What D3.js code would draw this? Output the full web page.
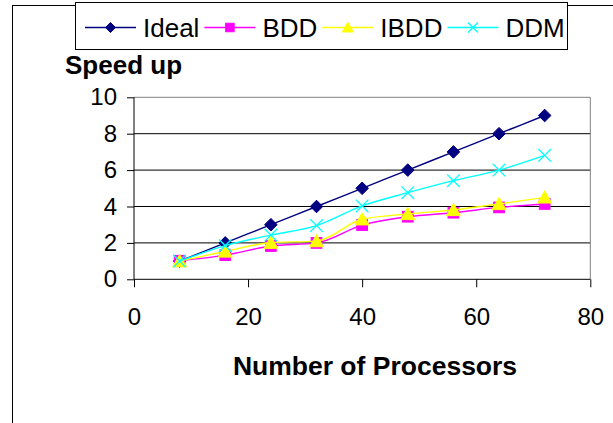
<!DOCTYPE html>
<html>
<head>
<meta charset="utf-8">
<script src="https://cdn.jsdelivr.net/npm/d3@7"></script>
<style>
  html, body { margin: 0; padding: 0; background: #fff; }
  svg { display: block; font-family: "Liberation Sans", Arial, sans-serif; }
</style>
</head>
<body>
<svg id="chart" width="613" height="423"></svg>
<script>
// ---- data ----
const processors = [8, 16, 24, 32, 40, 48, 56, 64, 72];
const ideal = [1, 2, 3, 4, 5, 6, 7, 8, 9];
const bdd   = [1.02, 1.33, 1.83, 2.0, 2.98, 3.44, 3.66, 3.95, 4.14];
const ibdd  = [1.0, 1.53, 2.01, 2.1, 3.3, 3.59, 3.81, 4.14, 4.5];
const ddm   = [1.0, 1.85, 2.43, 2.95, 4.03, 4.76, 5.42, 6.0, 6.81];
const seriesNames = ["Ideal", "BDD", "IBDD", "DDM"];
const xTicks = [0, 20, 40, 60, 80];
const yTicks = [0, 2, 4, 6, 8, 10];
const yTitle = "Speed up";
const xTitle = "Number of Processors";

const series = [
  { name: seriesNames[0], values: ideal, color: "#000080", marker: "diamond" },
  { name: seriesNames[1], values: bdd,   color: "#FF00FF", marker: "square" },
  { name: seriesNames[2], values: ibdd,  color: "#FFFF00", marker: "triangle" },
  { name: seriesNames[3], values: ddm,   color: "#00FFFF", marker: "cross" }
];

const svg = d3.select("#chart");

// outer chart frame
svg.append("rect").attr("x", 12.5).attr("y", 5.5).attr("width", 800).attr("height", 600)
  .attr("fill", "#fff").attr("stroke", "#000").attr("stroke-width", 1);

// plot area
const plot = { left: 134, right: 590.3, top: 97.3, bottom: 279.3 };
const x = d3.scaleLinear().domain([0, 80]).range([plot.left, plot.right]);
const y = d3.scaleLinear().domain([0, 10]).range([plot.bottom, plot.top]);

// gridlines
svg.append("g").selectAll("line").data(yTicks.filter(d => d > 0)).join("line")
  .attr("x1", plot.left).attr("x2", plot.right)
  .attr("y1", d => y(d)).attr("y2", d => y(d))
  .attr("stroke", d => d === 10 ? "#808080" : "#000").attr("stroke-width", 1);
// plot area right border
svg.append("line").attr("x1", plot.right).attr("x2", plot.right)
  .attr("y1", plot.top).attr("y2", plot.bottom).attr("stroke", "#808080");

// axes
const tickFont = 24;
const yAxis = svg.append("g").attr("transform", `translate(${plot.left},0)`)
  .call(d3.axisLeft(y).tickValues(yTicks).tickSize(7).tickPadding(10).tickFormat(d3.format("d")));
const xAxis = svg.append("g").attr("transform", `translate(0,${plot.bottom})`)
  .call(d3.axisBottom(x).tickValues(xTicks).tickSize(8).tickPadding(21).tickFormat(d3.format("d")));
[yAxis, xAxis].forEach(g => {
  g.select(".domain").attr("stroke", "#000");
  g.selectAll(".tick line").attr("stroke", "#000");
  g.selectAll(".tick text").attr("fill", "#000")
    .style("font-size", tickFont + "px").style("font-family", '"Liberation Sans", Arial, sans-serif');
});
yAxis.select(".domain").attr("d", `M-0,${plot.top}V${plot.bottom}`);
xAxis.select(".domain").attr("d", `M${plot.left},0H${plot.right}`);

// axis titles
svg.append("text").attr("x", 65).attr("y", 74)
  .attr("font-size", 26).attr("font-weight", "bold").attr("fill", "#000").text(yTitle);
svg.append("text").attr("x", 375).attr("y", 375).attr("text-anchor", "middle")
  .attr("font-size", 26.5).attr("font-weight", "bold").attr("fill", "#000").text(xTitle);

// marker drawing
function drawMarker(g, type, color, size) {
  const s = size;
  if (type === "diamond") {
    g.append("path").attr("d", `M0,${-s}L${s},0L0,${s}L${-s},0Z`)
      .attr("fill", color).attr("stroke", color).attr("stroke-width", 1);
  } else if (type === "square") {
    const h = s * 0.85;
    g.append("rect").attr("x", -h).attr("y", -h).attr("width", 2 * h).attr("height", 2 * h)
      .attr("fill", color).attr("stroke", color).attr("stroke-width", 1);
  } else if (type === "triangle") {
    g.append("path").attr("d", `M0,${-s * 1.05}L${s * 1.1},${s * 0.9}L${-s * 1.1},${s * 0.9}Z`)
      .attr("fill", color).attr("stroke", color).attr("stroke-width", 1);
  } else if (type === "cross") {
    g.append("path").attr("d", `M${-s},${-s}L${s},${s}M${-s},${s}L${s},${-s}`)
      .attr("fill", "none").attr("stroke", color).attr("stroke-width", 1.3);
  }
}

// series
const line = d3.line().x(d => x(d[0])).y(d => y(d[1])).curve(d3.curveMonotoneX);
series.forEach(s => {
  const pts = processors.map((p, i) => [p, s.values[i]]);
  const g = svg.append("g");
  g.append("path").datum(pts).attr("d", line)
    .attr("fill", "none").attr("stroke", s.color).attr("stroke-width", 1.4);
  pts.forEach(p => {
    const mg = g.append("g").attr("transform", `translate(${x(p[0])},${y(p[1])})`);
    drawMarker(mg, s.marker, s.color, 6.3);
  });
});

// legend
const legend = svg.append("g");
legend.append("rect").attr("x", 75.5).attr("y", 2.5)
  .attr("width", 492).attr("height", 47)
  .attr("fill", "#fff").attr("stroke", "#000").attr("stroke-width", 1);
let lx = 85;
const ly = 27.5;
const lineLen = 51;
series.forEach(s => {
  legend.append("line").attr("x1", lx).attr("x2", lx + lineLen).attr("y1", ly).attr("y2", ly)
    .attr("stroke", s.color).attr("stroke-width", 1.4);
  const mg = legend.append("g").attr("transform", `translate(${lx + lineLen / 2},${ly})`);
  drawMarker(mg, s.marker, s.color, 5);
  const t = legend.append("text").attr("x", lx + lineLen + 7).attr("y", 36.5)
    .attr("font-size", 26).attr("fill", "#000").text(s.name);
  lx = lx + lineLen + 7 + t.node().getComputedTextLength() + 5;
});
</script>
</body>
</html>
